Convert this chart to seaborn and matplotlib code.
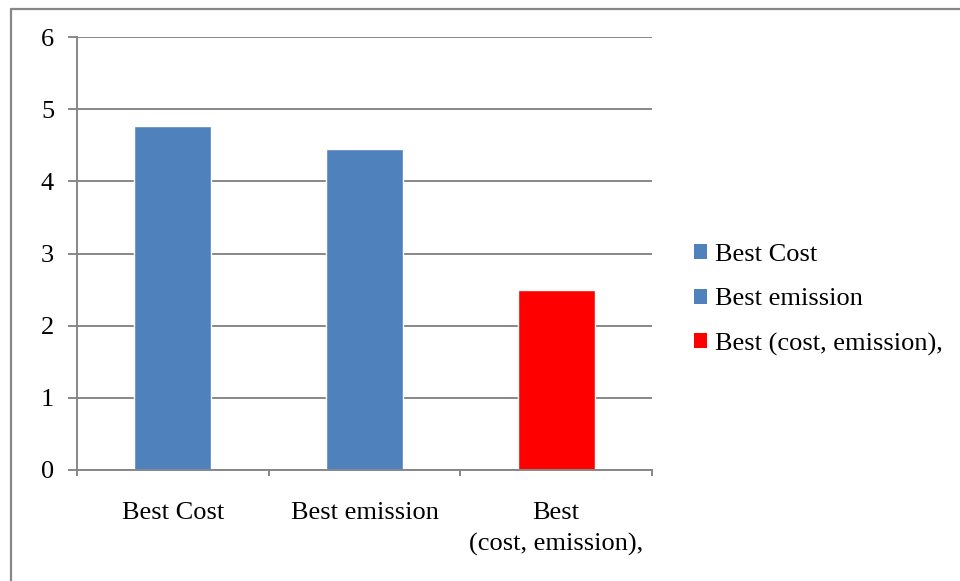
import matplotlib
matplotlib.use("Agg")
import matplotlib.pyplot as plt
from matplotlib.patches import Patch
from matplotlib.lines import Line2D
import seaborn as sns
import pandas as pd

categories = ["Best Cost", "Best emission", "Best (cost, emission),"]
tick_labels = ["Best Cost", "Best emission", "Best\n(cost, emission),"]
values = [4.77, 4.45, 2.49]
colors = ["#4F81BD", "#4F81BD", "#FF0000"]

sns.set_theme(style="white")
plt.rcParams["font.family"] = ["Liberation Serif", "DejaVu Serif"]
plt.rcParams["text.color"] = "black"

grey = "#878787"
fs = 19

df = pd.DataFrame({"category": categories, "value": values})

fig = plt.figure(figsize=(9.6, 5.81), dpi=100)
ax = fig.add_axes([77 / 960, 1 - 470 / 581, (652 - 77) / 960, (470 - 37) / 581])

sns.barplot(data=df, x="category", y="value", hue="category",
            palette=dict(zip(categories, colors)), order=categories,
            width=0.4, dodge=False, legend=False, saturation=1, ax=ax)

ax.set_xlim(-0.5, len(categories) - 0.5)
ax.set_ylim(0, 6)
ax.set_yticks(range(0, 7))
ax.set_xticks(range(len(categories)))
ax.set_xticklabels(tick_labels, linespacing=1.5)
ax.set_xticks([i - 0.5 for i in range(len(categories) + 1)], minor=True)
ax.set_xlabel("")
ax.set_ylabel("")

ax.yaxis.grid(True, color=grey, linewidth=1.4)
ax.set_axisbelow(True)
for side in ("top", "right"):
    ax.spines[side].set_visible(False)
for side in ("left", "bottom"):
    ax.spines[side].set_color(grey)
    ax.spines[side].set_linewidth(1.4)

ax.tick_params(axis="y", which="major", left=True, length=6.5, width=1.4,
               color=grey, pad=10, labelsize=fs, labelcolor="black")
ax.tick_params(axis="x", which="major", bottom=False, length=0, pad=23,
               labelsize=fs, labelcolor="black")
ax.tick_params(axis="x", which="minor", bottom=True, length=4.5, width=1.4,
               color=grey, direction="out")

handles = [Patch(facecolor=c, edgecolor="none") for c in colors]
leg = fig.legend(handles, categories, loc="center left",
                 bbox_to_anchor=(670 / 960, 1 - 300 / 581), frameon=False,
                 fontsize=fs, handlelength=0.5, handleheight=0.5,
                 handletextpad=0.3, labelspacing=0.84)
for t in leg.get_texts():
    t.set_color("black")

# outer chart border (top and left edges)
fig.add_artist(Line2D([10.5 / 960, 1.0], [1 - 8.5 / 581, 1 - 8.5 / 581],
                      transform=fig.transFigure, color=grey, linewidth=1.6))
fig.add_artist(Line2D([10.5 / 960, 10.5 / 960], [0.0, 1 - 8.5 / 581],
                      transform=fig.transFigure, color=grey, linewidth=1.6))

fig.savefig("out.png", dpi=100, facecolor="white")
